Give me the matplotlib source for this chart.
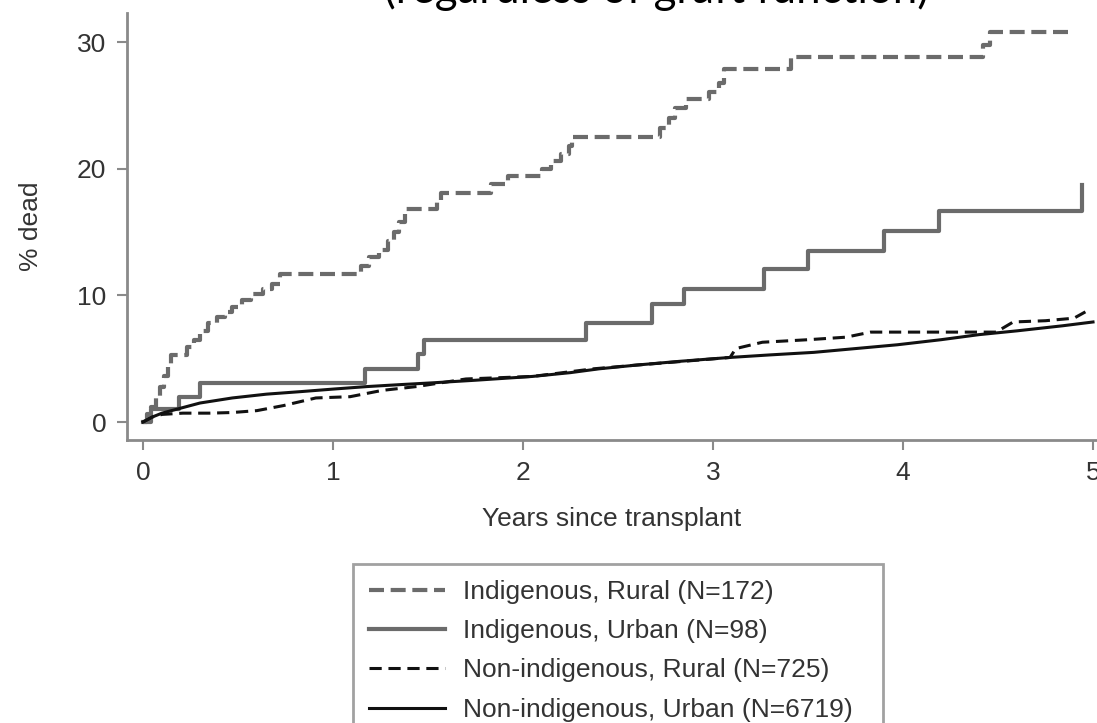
import matplotlib
matplotlib.use("Agg")
from matplotlib import pyplot as plt

# Kaplan-Meier style cumulative mortality (% dead)
ir_label = "Indigenous, Rural (N=172)"
ir_t = [0, 0.02, 0.04, 0.07, 0.09, 0.11, 0.13, 0.15, 0.23, 0.27, 0.30, 0.34, 0.39, 0.43,
        0.47, 0.52, 0.57, 0.63, 0.68, 0.72, 1.15, 1.19, 1.24, 1.29, 1.32, 1.35, 1.38,
        1.55, 1.57, 1.83, 1.92, 2.10, 2.15, 2.20, 2.24, 2.26, 2.72, 2.77, 2.80, 2.86,
        2.98, 3.03, 3.06, 3.41, 4.42, 4.46, 4.90]
ir_v = [0, 0.6, 1.2, 2.0, 2.8, 3.6, 4.5, 5.3, 5.9, 6.5, 7.2, 7.8, 8.3, 8.7,
        9.1, 9.6, 10.1, 10.5, 10.9, 11.7, 12.3, 13.0, 13.6, 14.3, 15.0, 15.8, 16.8,
        17.5, 18.1, 18.8, 19.4, 20.0, 20.6, 21.2, 21.8, 22.5, 23.2, 24.0, 24.8, 25.5,
        26.1, 26.8, 27.9, 28.8, 29.8, 30.8, 30.8]

iu_label = "Indigenous, Urban (N=98)"
iu_t = [0, 0.04, 0.19, 0.30, 1.17, 1.45, 1.48, 2.33, 2.68, 2.85, 3.27, 3.50, 3.90, 4.19, 4.94]
iu_v = [0, 1.0, 2.0, 3.1, 4.2, 5.4, 6.5, 7.8, 9.3, 10.5, 12.1, 13.5, 15.1, 16.7, 18.7]

nr_label = "Non-indigenous, Rural (N=725)"
nr_t = [0, 0.05, 0.10, 0.21, 0.35, 0.47, 0.60, 0.74, 0.91, 1.09, 1.26, 1.44, 1.70, 2.05,
        2.37, 2.60, 2.85, 3.09, 3.12, 3.26, 3.50, 3.70, 3.83, 4.20, 4.49, 4.58, 4.75, 4.90, 4.96]
nr_v = [0, 0.4, 0.6, 0.7, 0.7, 0.75, 0.9, 1.3, 1.9, 2.0, 2.5, 2.8, 3.4, 3.6,
        4.2, 4.5, 4.8, 5.1, 5.8, 6.3, 6.5, 6.7, 7.1, 7.1, 7.1, 7.9, 8.0, 8.2, 8.7]

nu_label = "Non-indigenous, Urban (N=6719)"
nu_t = [0, 0.05, 0.10, 0.20, 0.30, 0.47, 0.65, 0.83, 1.00, 1.18, 1.35, 1.53, 1.75, 2.05,
        2.25, 2.40, 2.60, 2.83, 3.09, 3.30, 3.53, 3.75, 3.97, 4.20, 4.40, 4.60, 4.84, 5.00]
nu_v = [0, 0.4, 0.7, 1.1, 1.5, 1.9, 2.2, 2.4, 2.6, 2.8, 2.95, 3.1, 3.3, 3.6,
        3.9, 4.2, 4.5, 4.8, 5.1, 5.3, 5.5, 5.8, 6.1, 6.5, 6.9, 7.2, 7.6, 7.9]

x_ticks = [0, 1, 2, 3, 4, 5]
y_ticks = [0, 10, 20, 30]

plt.rcParams['font.family'] = ['Liberation Sans', 'DejaVu Sans']

W, H = 1097, 723
fig = plt.figure(figsize=(W / 100, H / 100), dpi=100)
ax = fig.add_axes([127 / W, (H - 440) / H, (W - 127) / W, (440 - 13) / H])

gray = "#6b6b6b"
ax.step(ir_t, ir_v, where="post", color=gray, lw=3.0, dashes=(3.6, 1.6), label=ir_label)
ax.step(iu_t, iu_v, where="post", color=gray, lw=3.0, label=iu_label)
ax.plot(nr_t, nr_v, color="#111111", lw=2.2, dashes=(4.0, 2.2), label=nr_label)
ax.plot(nu_t, nu_v, color="#111111", lw=2.2, label=nu_label)

ax.set_xlim(-0.084, 5.021)
ax.set_ylim(-1.42, 32.3)
ax.set_xticks(x_ticks)
ax.set_yticks(y_ticks)
for side in ["top", "right"]:
    ax.spines[side].set_visible(False)
for side in ["left", "bottom"]:
    ax.spines[side].set_color("#8a8a8a")
    ax.spines[side].set_linewidth(2)
ax.tick_params(colors="#8a8a8a", width=1.5, length=7, labelsize=19, labelcolor="#333333", pad=8)

ax.set_xlabel("Years since transplant", fontsize=19, color="#333333", labelpad=16)
ax.set_ylabel("% dead", fontsize=19, color="#333333", labelpad=24)

# single column legend stretched to the reference box width
leg = fig.legend(loc="upper left", bbox_to_anchor=(353 / W, 0, 530 / W, 1 - 564 / H),
                 mode="expand", fontsize=19, frameon=True, fancybox=False,
                 edgecolor="#8a8a8a", handlelength=2.9, labelspacing=0.58, borderpad=0.6,
                 handletextpad=0.65, borderaxespad=0)
leg.get_frame().set_linewidth(2)
for t in leg.get_texts():
    t.set_color("#333333")

# title is cropped at the top of the picture
fig.text(656 / W, 1 - 3 / H, "(regardless of graft function)", ha="center", va="baseline",
         fontsize=31.5, family=["Lato", "DejaVu Sans"], color="black")

fig.savefig("out.png", dpi=100)
